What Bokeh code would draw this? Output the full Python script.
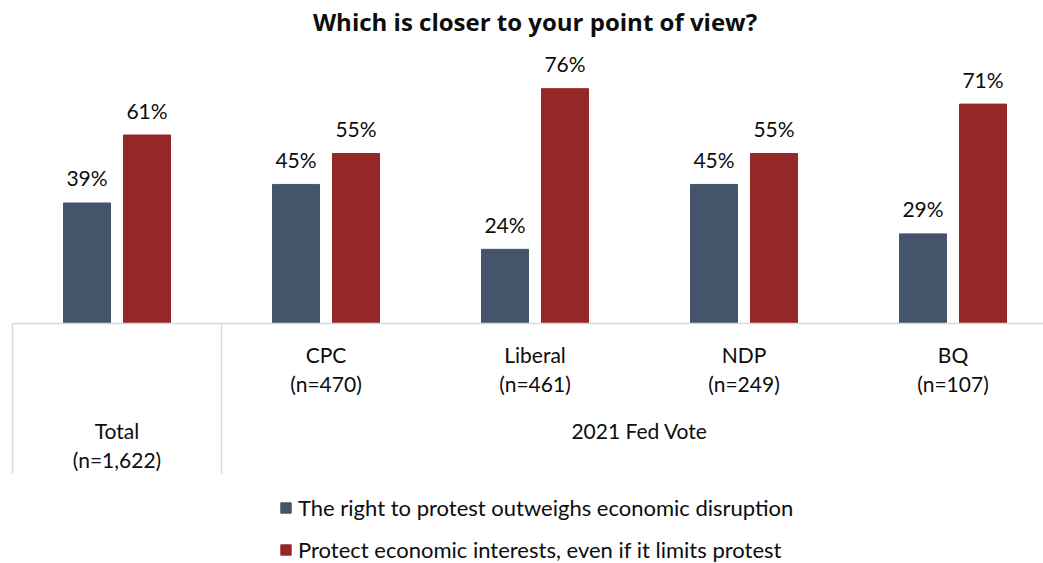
from bokeh.plotting import figure
from bokeh.models import Range1d, ColumnDataSource, Legend, LegendItem
from bokeh.core.properties import value
from bokeh.embed import file_html
from bokeh.resources import INLINE

# ---- data ----
title_text = "Which is closer to your point of view?"
categories = ["Total", "CPC", "Liberal", "NDP", "BQ"]
sample_sizes = ["(n=1,622)", "(n=470)", "(n=461)", "(n=249)", "(n=107)"]
group_label = "2021 Fed Vote"
series_names = [
    "The right to protest outweighs economic disruption",
    "Protect economic interests, even if it limits protest",
]
right_to_protest = [39, 45, 24, 45, 29]
protect_economy = [61, 55, 76, 55, 71]

# ---- style ----
colors = ["#44546A", "#952826"]
FONT = "Lato"
TXT = "#0d0d0d"
GRID = "#D9D9D9"

W, H = 1043, 563
PX_X = 209.0     # px per category
PX_Y = 3.09      # px per percent
x0 = -12 / PX_X
x1 = x0 + W / PX_X
y_top = 323 / PX_Y
y_bot = y_top - H / PX_Y

p = figure(width=W, height=H, x_range=Range1d(x0, x1), y_range=Range1d(y_bot, y_top),
           output_backend="svg", toolbar_location=None, x_axis_type=None, y_axis_type=None,
           min_border=0, min_border_left=0, min_border_right=0, min_border_top=0, min_border_bottom=0)
p.grid.visible = False
p.outline_line_color = None
p.background_fill_color = "white"
p.border_fill_color = "white"

n = len(categories)
centers = [i + 0.5 for i in range(n)]
off = 30 / PX_X
bw = 47 / PX_X

src = ColumnDataSource(dict(
    xb=[c - off for c in centers], xr=[c + off for c in centers],
    blue=right_to_protest, red=protect_economy,
    lb=[f"{v}%" for v in right_to_protest], lr=[f"{v}%" for v in protect_economy],
    yb=[v + 25 / PX_Y for v in right_to_protest], yr=[v + 25 / PX_Y for v in protect_economy],
))

r1 = p.vbar(x="xb", top="blue", bottom=0, width=bw, source=src, fill_color=colors[0], line_color=colors[0])
r2 = p.vbar(x="xr", top="red", bottom=0, width=bw, source=src, fill_color=colors[1], line_color=colors[1])

lab_kw = dict(text_font=value(FONT), text_font_size="21px", text_color=TXT,
              text_align="center", text_baseline="middle")
p.text(x="xb", y="yb", text="lb", source=src, **lab_kw)
p.text(x="xr", y="yr", text="lr", source=src, **lab_kw)

# axis line and separators
p.segment(x0=[0], y0=[0], x1=[x1 + 1], y1=[0], line_color=GRID, line_width=1.5)
sep_bottom = -150 / PX_Y
p.segment(x0=[0, 1, n], y0=[0, 0, 0], x1=[0, 1, n], y1=[sep_bottom] * 3, line_color=GRID, line_width=1.5)

# category labels
cat_y1 = [-107 / PX_Y] + [-31 / PX_Y] * (n - 1)
cat_y2 = [-136 / PX_Y] + [-60 / PX_Y] * (n - 1)
p.text(x=centers, y=cat_y1, text=categories, **lab_kw)
p.text(x=centers, y=cat_y2, text=sample_sizes, **lab_kw)
p.text(x=[(1 + n) / 2], y=[-107 / PX_Y], text=[group_label], **lab_kw)

# title
p.text(x=[n / 2], y=[302 / PX_Y], text=[title_text], text_font=value("Open Sans"), text_font_size="24px",
       text_font_style="bold", text_color=TXT, text_align="center", text_baseline="middle")

legend = Legend(items=[LegendItem(label=series_names[0], renderers=[r1]),
                       LegendItem(label=series_names[1], renderers=[r2])],
                location=(279, 0), orientation="vertical", glyph_width=13, glyph_height=13,
                label_standoff=6, spacing=15, padding=0, margin=0,
                border_line_alpha=0, background_fill_alpha=0,
                label_text_font=FONT, label_text_font_size="22px", label_text_color=TXT)
p.add_layout(legend)

open("out.html", "w").write(file_html(p, INLINE))
